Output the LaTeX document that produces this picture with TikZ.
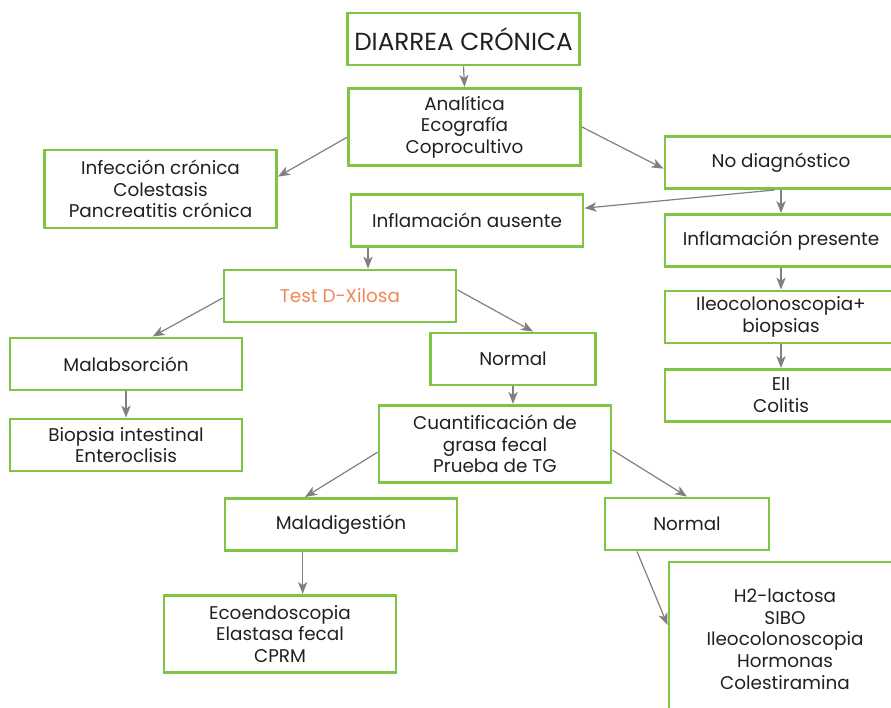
\documentclass[tikz,border=0pt]{standalone}
\usepackage{fontspec}
\setmainfont{Poppins}
\usetikzlibrary{positioning,arrows.meta,calc}

\definecolor{boxgreen}{RGB}{128,196,70}
\definecolor{arrowgray}{RGB}{128,128,132}
\definecolor{textdark}{RGB}{35,31,32}
\definecolor{testorange}{RGB}{240,134,84}

\begin{document}
\begin{tikzpicture}[x=0.75pt, y=-0.75pt,
    box/.style={draw=boxgreen, line width=2.2pt, minimum width=174pt, minimum height=39pt, inner sep=2pt, align=center, text=textdark, font=\fontsize{13.8}{16.3}\selectfont},
    narrowbox/.style={box, minimum width=123.5pt},
    tallbox/.style={box, minimum height=58pt},
    arrow/.style={-{Stealth[length=9pt, width=7pt, inset=2.5pt]}, line width=0.9pt, arrowgray}
]
\useasboundingbox (0,0) rectangle (891,707);

% Central column
\node[box, font=\fontsize{18.5}{20}\selectfont] (diarrea) at (463.5,39) {DIARREA CRÓNICA};
\node[tallbox] (analitica) at (464.5,127) {Analítica\\Ecografía\\Coprocultivo};
\node[tallbox, minimum height=58.5pt] (infeccion) at (160.5,189) {Infección crónica\\Colestasis\\Pancreatitis crónica};
\node[box] (ausente) at (467,220.5) {Inflamación ausente};

% Right column
\node[box] (nodiag) at (781,162.5) {No diagnóstico};
\node[box] (presente) at (781,240.5) {Inflamación presente};
\node[box] (ileo) at (781,317) {Ileocolonoscopia+\\biopsias};
\node[box] (eii) at (781,395.5) {EII\\Colitis};

% D-Xilosa branch
\node[box, text=testorange] (test) at (340,296) {Test D-Xilosa};
\node[box] (malabs) at (126,364) {Malabsorción};
\node[box] (biopsia) at (126,445) {Biopsia intestinal\\Enteroclisis};
\node[narrowbox] (normala) at (513,359) {Normal};
\node[tallbox] (cuant) at (495,444) {Cuantificación de\\grasa fecal\\Prueba de TG};
\node[box] (maladig) at (341,524.5) {Maladigestión};
\node[tallbox] (ecoendo) at (280,634) {Ecoendoscopia\\Elastasa fecal\\CPRM};
\node[narrowbox, minimum width=123pt] (normalb) at (687,524) {Normal};
\node[box, minimum height=115.5pt] (hidrogeno) at (785,639) {H2-lactosa\\SIBO\\Ileocolonoscopia\\Hormonas\\Colestiramina};

\coordinate (testin) at ([xshift=21pt]test.north);
\coordinate (ecoin) at ([xshift=17pt]ecoendo.north);

% Arrows
\foreach \a/\b in {diarrea.south/analitica.north, analitica.185/infeccion.6, analitica.0/nodiag.183, nodiag.257/ausente.6, nodiag.south/presente.north, presente.south/ileo.north, ileo.south/eii.north, malabs.south/biopsia.north, cuant.357/normalb.north} {
    \draw[arrow] (\a) -- (\b);
}
\draw[arrow] (testin |- ausente.south) -- (testin);
\draw[arrow] (test.181) -- ([xshift=20pt]malabs.north);
\draw[arrow] (test.3) -- ([xshift=15pt]normala.north);
\draw[arrow] (normala.south) -- (normala.south |- cuant.north);
\draw[arrow] (cuant.184) -- ([xshift=-27pt]maladig.north);
\draw[arrow] (ecoin |- maladig.south) -- (ecoin);
\draw[arrow] ([xshift=-37.5pt]normalb.south) -- ([yshift=10.5pt]hidrogeno.west);

\end{tikzpicture}
\end{document}
